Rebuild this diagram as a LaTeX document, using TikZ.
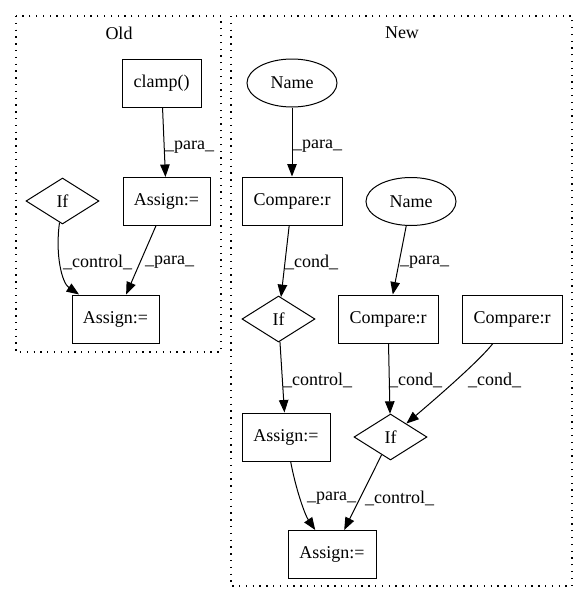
\documentclass[tikz,border=0pt]{standalone}
\usepackage{fontspec}
\setmainfont{Liberation Serif}
\usetikzlibrary{shapes.geometric,arrows.meta}

\tikzset{
  every node/.style={font=\fontsize{18}{21}\selectfont},
  box/.style={draw, line width=1pt, rectangle, inner sep=0pt, minimum height=48pt},
  oval/.style={draw, line width=1pt, ellipse, inner sep=0pt, minimum width=90pt, minimum height=48pt},
  cond/.style={draw, line width=1pt, diamond, inner sep=0pt, minimum width=73pt, minimum height=46pt},
  edge/.style={draw, line width=1pt, -{Triangle[length=12.5pt, width=9.5pt]}},
  lbl/.style={anchor=west, inner sep=0pt},
  cluster/.style={draw, line width=1.1pt, dash pattern=on 1.3pt off 5.5pt},
}

\begin{document}
\begin{tikzpicture}[x=1pt, y=1pt]
  \useasboundingbox (0,0) rectangle (588,-606);

  % clusters
  \draw[cluster] (16,-16) rectangle (221,-352);
  \draw[cluster] (231,-16) rectangle (572,-586);
  \node (oldtitle) at (119,-33) {Old};
  \node (newtitle) at (402,-33) {New};

  % Old
  \node[box, minimum width=79pt] (clamp) at (161.5,-83) {clamp()};
  \node[box, minimum width=87pt] (aso) at (166.5,-201.5) {Assign:=};
  \node[cond] (ifo) at (62.5,-201) {If};
  \node[box, minimum width=87pt] (asob) at (115.5,-319) {Assign:=};

  \draw[edge] (clamp) -- (aso);
  \draw[edge] (aso) -- (asob);
  \draw[edge] (ifo) .. controls (55,-255) and (62,-283) .. (asob);
  \node[lbl] (l1) at (165,-147) {\_para\_};
  \node[lbl] (l2) at (145,-262) {\_para\_};
  \node[lbl] (l3) at (63,-262) {\_control\_};

  % New
  \node[oval] (name1) at (292,-83) {Name};
  \node[box, minimum width=100pt] (cmp1) at (292,-201) {Compare:r};
  \node[oval] (name2) at (411,-201.5) {Name};
  \node[cond] (if1) at (278.5,-319) {If};
  \node[box, minimum width=100pt] (cmp2) at (388,-319) {Compare:r};
  \node[box, minimum width=100pt] (cmp3) at (512,-319) {Compare:r};
  \node[box, minimum width=88pt] (asl) at (286,-437) {Assign:=};
  \node[cond] (if2) at (390.5,-437) {If};
  \node[box, minimum width=88pt] (asn) at (332,-554.5) {Assign:=};

  \draw[edge] (name1) -- (cmp1);
  \draw[edge] (cmp1) -- (if1);
  \draw[edge] (name2) -- (cmp2);
  \draw[edge] (if1) -- (asl);
  \draw[edge] (cmp2) -- (if2);
  \draw[edge] (cmp3) .. controls (480,-360) and (440,-395) .. (if2);
  \draw[edge] (asl) .. controls (296,-490) and (305,-515) .. (asn);
  \draw[edge] (if2) -- (asn);

  \node[lbl] (l4) at (293,-146) {\_para\_};
  \node[lbl] (l5) at (285,-262) {\_cond\_};
  \node[lbl] (l6) at (400,-262) {\_para\_};
  \node[lbl] (l7) at (283,-380) {\_control\_};
  \node[lbl] (l8) at (389,-380) {\_cond\_};
  \node[lbl] (l9) at (468,-380) {\_cond\_};
  \node[lbl] (l10) at (307,-498) {\_para\_};
  \node[lbl] (l11) at (365,-498) {\_control\_};
\end{tikzpicture}
\end{document}
